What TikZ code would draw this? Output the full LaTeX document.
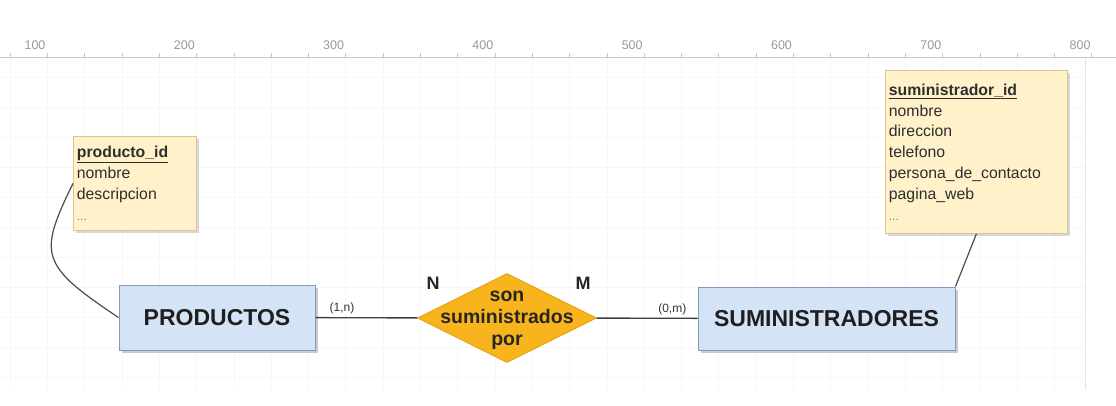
\documentclass[tikz,border=0pt]{standalone}
\usepackage{fontspec}
\setmainfont{Liberation Sans}
\usepackage{xcolor}
\usepackage{tikz}
\usetikzlibrary{shapes.geometric,shadows}
\definecolor{entfill}{HTML}{D5E3F6}
\definecolor{entdraw}{HTML}{8399BA}
\definecolor{attfill}{HTML}{FFF1CA}
\definecolor{attdraw}{HTML}{DCC68E}
\definecolor{relfill}{HTML}{F7B41C}
\definecolor{reldraw}{HTML}{E59A0A}
\tikzset{edge/.style = {draw=black!75, line width=1.4pt}}

\begin{document}
\begin{tikzpicture}[x=1pt,y=-1pt,
    ent node/.style={rectangle,draw=entdraw,fill=entfill,line width=1pt,inner sep=0pt,
        font=\fontsize{23}{26}\selectfont\bfseries,text=black!88,
        drop shadow={shadow xshift=3pt,shadow yshift=-3pt,fill=black!40}},
    att node/.style={rectangle,draw=attdraw,fill=attfill,line width=0.8pt,inner xsep=3.5pt,inner ysep=0pt,
        align=left,font=\fontsize{15.8}{20.8}\selectfont,text=black!82,anchor=north west,
        drop shadow={shadow xshift=3pt,shadow yshift=-3pt,fill=black!30}},
    rel node/.style={diamond,draw=reldraw,fill=relfill,line width=0.8pt,inner sep=0pt,
        minimum width=179pt,minimum height=89pt},
    rel text/.style={align=center,font=\fontsize{19.5}{22}\selectfont\bfseries,text=black!85},
    card/.style={font=\fontsize{12}{14}\selectfont,text=black!80,inner sep=1pt},
    deg/.style={font=\fontsize{18}{20}\selectfont\bfseries,text=black!85},
    ruler num/.style={font=\fontsize{12.5}{14}\selectfont,text=black!40}]

    \useasboundingbox (0,0) rectangle (1116,405);
    \fill[white] (0,0) rectangle (1116,405);

    % canvas grid and ruler
    \foreach \gx in {10,47.3,...,1080} \draw[black!3,line width=0.6pt] (\gx,57) -- (\gx,390);
    \foreach \gy in {77,107,...,390} \draw[black!3,line width=0.6pt] (0,\gy) -- (1085,\gy);
    \draw[black!10,line width=0.8pt] (1085,57) -- (1085,390);
    \draw[black!22,line width=0.8pt] (0,57) -- (1116,57);
    \foreach \tx in {10,47.3,...,1116} \draw[black!22,line width=0.6pt] (\tx,57) -- (\tx,53);
    \foreach \n [count=\i from 0] in {100,200,...,800}
        \node[ruler num] (r\n) at (35+149.3*\i,45) {\n};

    % entities, relation, attribute boxes
    \node[ent node,minimum width=196pt,minimum height=65pt] (prod) at (217,317.5) {PRODUCTOS};
    \node[ent node,minimum width=257pt,minimum height=63pt] (sum) at (826.5,318.5) {SUMINISTRADORES};
    \node[rel node] (rel) at (507,318) {};
    \node[rel text] (reltxt) at (507,320) {son\\suministrados\\por};

    \node[att node,text width=116pt,minimum height=94pt] (attprod) at (73,136)
        {\underline{\textbf{producto\_id}}\\nombre\\descripcion\\{\color{black!50}\fontsize{12}{20.8}\selectfont...}};
    \node[att node,text width=175pt,minimum height=163pt] (attsum) at (885,70)
        {\underline{\textbf{suministrador\_id}}\\nombre\\direccion\\telefono\\persona\_de\_contacto\\pagina\_web\\{\color{black!50}\fontsize{12}{20.8}\selectfont...}};

    \node[deg] (n) at (433,283) {N};
    \node[deg] (m) at (583,283) {M};

    % connectors
    \path (prod) edge[edge] node[card,above=2pt,pos=0.26] (c1) {(1,n)} (rel);
    \path (rel) edge[edge] node[card,above=2pt,pos=0.75] (c2) {(0,m)} (sum);
    \draw[black!70,line width=1.2pt] (attprod.west) .. controls (38,255) and (40,265) .. (prod.west);
    \draw[black!70,line width=1.2pt] (attsum.south) -- (sum.north east);

\end{tikzpicture}
\end{document}
